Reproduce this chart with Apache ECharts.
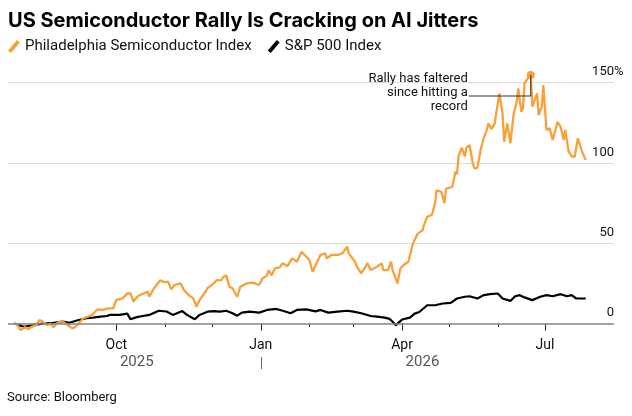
<!DOCTYPE html>
<html lang="en">
<head>
<meta charset="utf-8">
<title>US Semiconductor Rally Is Cracking on AI Jitters</title>
<script src="https://cdn.jsdelivr.net/npm/echarts@6.0.0/dist/echarts.min.js"></script>
<style>
    html, body { margin: 0; padding: 0; background: #fff; }
    #main { width: 632px; height: 416px; }
</style>
</head>
<body>
<div id="main"></div>
<script>
    // Philadelphia Semiconductor Index, % change since late July 2025
    const semiDates = [
        '2025-07-28', '2025-07-30', '2025-08-01', '2025-08-04', '2025-08-06', '2025-08-08', '2025-08-11', '2025-08-13',
        '2025-08-15', '2025-08-18', '2025-08-20', '2025-08-22', '2025-08-24', '2025-08-26', '2025-08-28', '2025-08-31',
        '2025-09-03', '2025-09-05', '2025-09-07', '2025-09-10', '2025-09-13', '2025-09-16', '2025-09-19', '2025-09-22',
        '2025-09-26', '2025-09-29', '2025-10-01', '2025-10-05', '2025-10-08', '2025-10-10', '2025-10-12', '2025-10-14',
        '2025-10-16', '2025-10-19', '2025-10-21', '2025-10-22', '2025-10-25', '2025-10-29', '2025-10-31', '2025-11-03',
        '2025-11-05', '2025-11-07', '2025-11-11', '2025-11-13', '2025-11-16', '2025-11-19', '2025-11-21', '2025-11-23',
        '2025-11-27', '2025-11-28', '2025-12-02', '2025-12-04', '2025-12-07', '2025-12-08', '2025-12-10', '2025-12-12',
        '2025-12-14', '2025-12-17', '2025-12-19', '2025-12-23', '2025-12-27', '2025-12-31', '2026-01-02', '2026-01-05',
        '2026-01-06', '2026-01-08', '2026-01-10', '2026-01-13', '2026-01-15', '2026-01-18', '2026-01-21', '2026-01-24',
        '2026-01-27', '2026-01-30', '2026-02-01', '2026-02-03', '2026-02-05', '2026-02-08', '2026-02-11', '2026-02-12',
        '2026-02-15', '2026-02-19', '2026-02-22', '2026-02-25', '2026-02-26', '2026-03-02', '2026-03-03', '2026-03-06',
        '2026-03-10', '2026-03-12', '2026-03-16', '2026-03-19', '2026-03-20', '2026-03-23', '2026-03-25', '2026-03-26',
        '2026-03-29', '2026-03-31', '2026-04-02', '2026-04-05', '2026-04-08', '2026-04-11', '2026-04-14', '2026-04-15',
        '2026-04-17', '2026-04-20', '2026-04-22', '2026-04-23', '2026-04-26', '2026-04-28', '2026-04-29', '2026-05-03',
        '2026-05-05', '2026-05-06', '2026-05-07', '2026-05-09', '2026-05-11', '2026-05-12', '2026-05-14', '2026-05-16',
        '2026-05-17', '2026-05-19', '2026-05-21', '2026-05-23', '2026-05-25', '2026-05-26', '2026-05-28', '2026-05-30',
        '2026-05-31', '2026-06-02', '2026-06-04', '2026-06-05', '2026-06-07', '2026-06-09', '2026-06-11', '2026-06-13',
        '2026-06-14', '2026-06-16', '2026-06-17', '2026-06-18', '2026-06-20', '2026-06-22', '2026-06-23', '2026-06-24',
        '2026-06-26', '2026-06-27', '2026-06-29', '2026-06-30', '2026-07-02', '2026-07-04', '2026-07-06', '2026-07-09',
        '2026-07-11', '2026-07-13', '2026-07-14', '2026-07-16', '2026-07-18', '2026-07-20', '2026-07-22', '2026-07-23',
        '2026-07-25', '2026-07-27'
    ];
    const semiValues = [
        0.5, -1, -4, -2.3, -3.5, -2, -1, 2.2,
        1.2, -0.9, 0, -2.3, 0, 1.2, 1.2, -1,
        -3, -2, 0, 3.3, 4.3, 5.8, 8.9, 8.5,
        9.5, 9.5, 14.7, 15.7, 18.8, 18.8, 13.6, 16.5,
        17.8, 19, 19.9, 16.7, 22, 27, 26, 26,
        21.3, 24, 25, 21, 17.8, 15.7, 10.5, 14.7,
        20, 22, 25, 27, 27, 29, 30, 23,
        22, 16.7, 23, 25, 25.5, 24, 28, 30,
        33.3, 30, 34.4, 35, 37.5, 35.7, 40.6, 38.5,
        44.7, 41.6, 39.6, 32.3, 36.5, 42.7, 43.7, 40.6,
        42.7, 42.7, 43.7, 47.9, 43.7, 38.5, 35.7, 31.3,
        37.5, 33.3, 35.4, 37.5, 33.3, 33.3, 38.5, 33.3,
        25, 34.4, 36.5, 38.5, 50, 56, 58, 61.4,
        66.5, 67.6, 74.9, 83, 82, 74.9, 84, 85,
        94.5, 93, 104.3, 109.5, 104, 109.5, 111, 100,
        96.6, 97, 108, 115.3, 120.5, 124.6, 121, 124.6,
        125.6, 143.3, 130.9, 113.2, 124.6, 112.2, 129.8, 138,
        146.4, 131.8, 134, 149.5, 152.6, 154.7, 135, 134.5,
        143.3, 129.8, 135, 148.5, 120.5, 121.5, 114.2, 125.6,
        122.5, 114.2, 120.5, 107.5, 104, 104, 115.3, 114.2,
        106, 101.8
    ];

    // S&P 500 Index, % change
    const spxDates = [
        '2025-07-28', '2025-08-03', '2025-08-06', '2025-08-09', '2025-08-15', '2025-08-22', '2025-08-28', '2025-09-01',
        '2025-09-07', '2025-09-12', '2025-09-16', '2025-09-21', '2025-09-25', '2025-09-27', '2025-10-01', '2025-10-03',
        '2025-10-08', '2025-10-10', '2025-10-14', '2025-10-18', '2025-10-22', '2025-10-28', '2025-11-02', '2025-11-06',
        '2025-11-12', '2025-11-15', '2025-11-20', '2025-11-23', '2025-11-28', '2025-12-02', '2025-12-06', '2025-12-10',
        '2025-12-14', '2025-12-17', '2025-12-20', '2025-12-25', '2025-12-31', '2026-01-05', '2026-01-11', '2026-01-15',
        '2026-01-20', '2026-01-24', '2026-01-30', '2026-02-05', '2026-02-08', '2026-02-13', '2026-02-19', '2026-02-25',
        '2026-03-01', '2026-03-06', '2026-03-12', '2026-03-16', '2026-03-21', '2026-03-24', '2026-03-26', '2026-03-28',
        '2026-03-29', '2026-04-01', '2026-04-06', '2026-04-09', '2026-04-12', '2026-04-17', '2026-04-22', '2026-04-27',
        '2026-05-02', '2026-05-06', '2026-05-11', '2026-05-14', '2026-05-19', '2026-05-23', '2026-05-27', '2026-06-01',
        '2026-06-04', '2026-06-09', '2026-06-12', '2026-06-15', '2026-06-18', '2026-06-23', '2026-06-28', '2026-07-02',
        '2026-07-06', '2026-07-11', '2026-07-15', '2026-07-18', '2026-07-21', '2026-07-27'
    ];
    const spxValues = [
        0, -2, -1.5, -1, 0, 0.5, 1.2, 0.5,
        2.2, 3.3, 3.7, 4.3, 4.7, 5.4, 5.4, 5.4,
        6.2, 2.7, 4, 4.7, 5.4, 8, 7.5, 5.4,
        7.8, 5.4, 2.7, 5.4, 7.4, 7.8, 7.4, 8,
        6.4, 4.9, 6.8, 7.4, 6.8, 8.5, 9.1, 8,
        6.4, 8.5, 8.8, 7.6, 8.5, 6.8, 7.4, 8,
        7.4, 6.4, 4.7, 4.3, 3.7, 2.9, 1.1, -1,
        0, 2.5, 3.7, 6.2, 7.2, 11.4, 11.4, 12.5,
        12.9, 15.6, 16.7, 17, 15.6, 17.7, 18.3, 18.7,
        15.6, 14.1, 17, 17.7, 16.3, 14.6, 16.7, 17.7,
        17, 18.3, 17, 17.7, 15.6, 15.6
    ];

    // axis ticks and labels
    const monthTicks = [
        '2025-08-01', '2025-09-01', '2025-10-01', '2025-11-01', '2025-12-01', '2026-01-01',
        '2026-02-01', '2026-03-01', '2026-04-01', '2026-05-01', '2026-06-01', '2026-07-01'
    ];
    const quarterTicks = ['2025-10-01', '2026-01-01', '2026-04-01', '2026-07-01'];
    const quarterLabels = ['Oct', 'Jan', 'Apr', 'Jul'];
    const yearLabelDates = ['2025-10-14', '2026-04-14'];
    const yearLabels = ['2025', '2026'];
    const yearBreak = ['2026-01-01'];
    const yTicks = [0, 50, 100, 150];
    const yUnitTick = [150];   // only the top label carries the % sign

    const ORANGE = '#f8a13a';
    const BODY_FONT = 'Roboto, "Liberation Sans", sans-serif';
    const toTime = function (d) { return +echarts.number.parseDate(d); };

    // x is a plain value axis holding timestamps, so custom tick values are allowed
    const xMin = toTime('2025-07-24');
    const xMax = toTime('2026-08-14');
    const quarterTimes = quarterTicks.map(toTime);
    const yearTimes = yearLabelDates.map(toTime);

    function dateAxis(extra) {
        let base = {
            type: 'value',
            position: 'bottom',
            min: xMin,
            max: xMax,
            scale: true,
            axisLine: { show: false },
            splitLine: { show: false }
        };
        return Object.assign(base, extra);
    }

    function pctAxis(extra) {
        let base = {
            type: 'value',
            position: 'right',
            min: -4,
            max: 160,
            axisLine: { show: false }
        };
        return Object.assign(base, extra);
    }

    let chart = echarts.init(document.getElementById('main'), null, { renderer: 'canvas' });

    let option = {
        animation: false,
        backgroundColor: '#ffffff',
        textStyle: { fontFamily: BODY_FONT },
        title: {
            text: 'US Semiconductor Rally Is Cracking on AI Jitters',
            left: 3,
            top: 6,
            textStyle: {
                fontFamily: 'Inter, "Liberation Sans", sans-serif',
                fontWeight: 'bold',
                fontSize: 20,
                color: '#000'
            }
        },
        legend: {
            left: 3,
            top: 34,
            itemWidth: 12,
            itemHeight: 13,
            itemGap: 16,
            icon: 'path://M9,0 L12,2.4 L3,13 L0,10.6 Z',
            textStyle: { fontSize: 15, color: '#111', fontFamily: BODY_FONT },
            data: ['Philadelphia Semiconductor Index', 'S&P 500 Index']
        },
        grid: {
            left: 8,
            right: 18,
            top: 66.5,
            bottom: 86,
            containLabel: false,
            outerBoundsMode: 'none'
        },
        xAxis: [
            dateAxis({
                axisTick: {
                    customValues: monthTicks.map(toTime),
                    length: 3.5,
                    lineStyle: { color: '#222', width: 1 }
                },
                axisLabel: {
                    customValues: quarterTimes,
                    margin: 8,
                    fontSize: 14,
                    color: '#111',
                    formatter: function (v) {
                        let i = quarterTimes.indexOf(v);
                        return i >= 0 ? quarterLabels[i] : '';
                    }
                }
            }),
            dateAxis({
                axisTick: {
                    customValues: quarterTimes,
                    length: 7,
                    lineStyle: { color: '#222', width: 1 }
                },
                axisLabel: { show: false }
            }),
            dateAxis({
                offset: 27,
                axisTick: {
                    customValues: yearBreak.map(toTime),
                    length: 12,
                    lineStyle: { color: '#666', width: 1 }
                },
                axisLabel: {
                    customValues: yearTimes,
                    margin: -2,
                    fontSize: 15,
                    color: '#555',
                    formatter: function (v) {
                        let i = yearTimes.indexOf(v);
                        return i >= 0 ? yearLabels[i] : '';
                    }
                }
            })
        ],
        yAxis: [
            pctAxis({
                axisTick: { show: false, customValues: yTicks },
                splitLine: { show: true, lineStyle: { color: '#dcdcdc', width: 1.2 } },
                axisLabel: {
                    customValues: yTicks,
                    inside: true,
                    align: 'right',
                    verticalAlign: 'bottom',
                    margin: 0,
                    padding: [0, 0, 4, 0],
                    fontSize: 13,
                    color: '#111'
                }
            }),
            // second copy of the scale that only prints the hanging % sign
            pctAxis({
                axisTick: { show: false, customValues: yUnitTick },
                splitLine: { show: false },
                axisLabel: {
                    customValues: yUnitTick,
                    inside: true,
                    align: 'left',
                    verticalAlign: 'bottom',
                    margin: 0,
                    padding: [0, 0, 4, 0],
                    fontSize: 13,
                    color: '#111',
                    formatter: function () { return '%'; }
                }
            })
        ],
        series: [
            {
                name: 'S&P 500 Index',
                type: 'line',
                z: 2,
                showSymbol: false,
                symbol: 'none',
                itemStyle: { color: '#000' },
                lineStyle: { color: '#000', width: 2.2 },
                data: spxDates.map(function (d, i) { return [toTime(d), spxValues[i]]; }),
                markLine: {
                    silent: true,
                    symbol: 'none',
                    label: { show: false },
                    lineStyle: { color: '#8a8a8a', width: 1.6, type: 'solid' },
                    data: [{ yAxis: 0 }]
                }
            },
            {
                name: 'Philadelphia Semiconductor Index',
                type: 'line',
                z: 3,
                showSymbol: false,
                symbol: 'none',
                itemStyle: { color: ORANGE },
                lineStyle: { color: ORANGE, width: 2.3 },
                data: semiDates.map(function (d, i) { return [toTime(d), semiValues[i]]; }),
                markPoint: {
                    symbol: 'circle',
                    symbolSize: 8,
                    silent: true,
                    itemStyle: { color: ORANGE },
                    label: { show: false },
                    data: [{ type: 'max' }]
                }
            }
        ]
    };

    chart.setOption(option);

    // annotation anchored at the record high
    let peakIdx = semiValues.indexOf(Math.max.apply(null, semiValues));
    let p = chart.convertToPixel({ seriesIndex: 1 }, [toTime(semiDates[peakIdx]), semiValues[peakIdx]]);

    chart.setOption({
        graphic: [
            {
                type: 'polyline',
                silent: true,
                z: 5,
                shape: { points: [[p[0], p[1]], [p[0], p[1] + 21], [p[0] - 62, p[1] + 21]] },
                style: { stroke: '#333', lineWidth: 1, fill: null }
            },
            {
                type: 'text',
                silent: true,
                z: 5,
                x: p[0] - 63,
                y: p[1] - 3,
                style: {
                    text: 'Rally has faltered\nsince hitting a\nrecord',
                    align: 'right',
                    verticalAlign: 'top',
                    font: '13px ' + BODY_FONT,
                    lineHeight: 14,
                    fill: '#111'
                }
            },
            {
                type: 'text',
                silent: true,
                left: 7,
                top: 391,
                style: {
                    text: 'Source: Bloomberg',
                    font: '13px ' + BODY_FONT,
                    fill: '#111'
                }
            }
        ]
    });
</script>
</body>
</html>
